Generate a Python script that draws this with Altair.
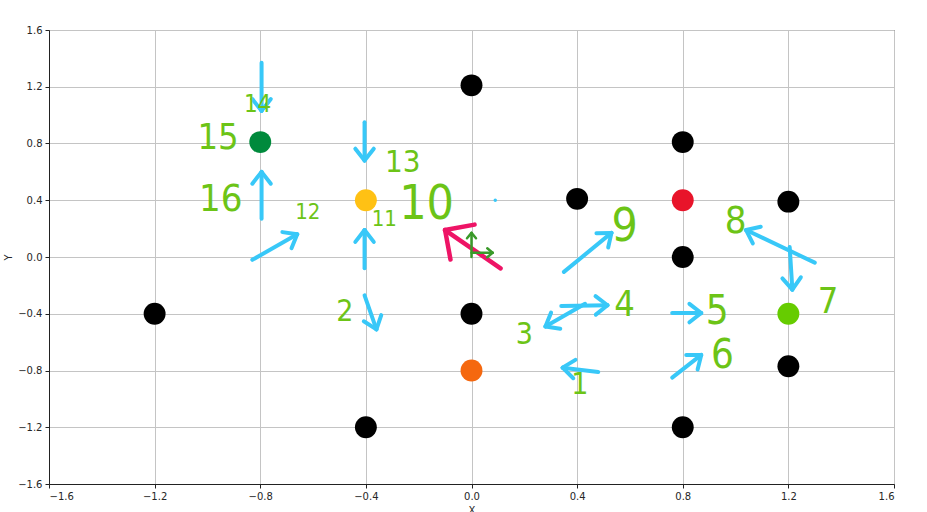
import altair as alt
import pandas as pd
import numpy as np

# ---- data: scatter points ----
pt_x = [-1.2, -0.8, -0.4, -0.4, 0.0, 0.0, 0.0, 0.4, 0.8, 0.8, 0.8, 0.8, 1.2, 1.2, 1.2, 0.09]
pt_y = [-0.4, 0.81, 0.4, -1.2, 1.21, -0.4, -0.8, 0.41, 0.81, 0.4, 0.0, -1.2, 0.39, -0.4, -0.77, 0.4]
pt_group = ["black", "darkgreen", "yellow", "black", "black", "black", "orange", "black",
            "black", "red", "black", "black", "black", "lightgreen", "black", "tiny"]

# ---- data: handwritten numbers ----
note_labels = ["1", "2", "3", "4", "5", "6", "7", "8", "9", "10", "11", "12", "13", "14", "15", "16"]
note_x = [0.41, -0.48, 0.20, 0.58, 0.93, 0.95, 1.35, 1.00, 0.58, -0.17, -0.33, -0.62, -0.26, -0.81, -0.96, -0.95]
note_y = [-0.90, -0.39, -0.55, -0.34, -0.39, -0.70, -0.32, 0.25, 0.21, 0.37, 0.27, 0.32, 0.66, 1.07, 0.84, 0.40]
note_sizes = [30, 30, 30, 36, 40, 40, 36, 38, 46, 48, 22, 22, 31, 24, 36, 38]

# ---- data: hand-drawn arrows (tail -> tip) ----
arrow_x1 = [0.48, -0.405, 0.43, 0.34, 0.76, 0.76, 1.205, 1.30, 0.35, 0.11, -0.405, -0.83, -0.405, -0.795, -0.795, 0.0, 0.0]
arrow_y1 = [-0.81, -0.27, -0.33, -0.345, -0.395, -0.85, 0.07, -0.04, -0.105, -0.08, -0.08, -0.02, 0.95, 1.37, 0.27, 0.0, 0.03]
arrow_x2 = [0.345, -0.36, 0.28, 0.515, 0.87, 0.87, 1.215, 1.04, 0.53, -0.10, -0.405, -0.66, -0.405, -0.795, -0.795, 0.0, 0.08]
arrow_y2 = [-0.78, -0.51, -0.49, -0.34, -0.395, -0.69, -0.23, 0.19, 0.17, 0.19, 0.19, 0.16, 0.68, 1.03, 0.60, 0.17, 0.03]
arrow_ink = ["blue"] * 9 + ["pink"] + ["blue"] * 5 + ["small", "small"]

W, H = 845, 454
sx, sy = W / 3.2, H / 3.2
ink_color = {"blue": "#38C8F8", "pink": "#EE1466", "small": "#3A9A2A"}
ink_width = {"blue": 4, "pink": 4.5, "small": 2.5}
ink_head = {"blue": 15, "pink": 30, "small": 7}
ink_angle = {"blue": 38, "pink": 45, "small": 40}

rows = []
for x1, y1, x2, y2, ink in zip(arrow_x1, arrow_y1, arrow_x2, arrow_y2, arrow_ink):
    c, w, L = ink_color[ink], ink_width[ink], ink_head[ink]
    rows.append(dict(x=x1, y=y1, x2=x2, y2=y2, c=c, w=w))
    dx, dy = (x2 - x1) * sx, (y2 - y1) * sy
    n = np.hypot(dx, dy)
    ux, uy = dx / n, dy / n
    for a in (np.radians(ink_angle[ink]), -np.radians(ink_angle[ink])):
        hx = ux * np.cos(a) - uy * np.sin(a)
        hy = ux * np.sin(a) + uy * np.cos(a)
        rows.append(dict(x=x2, y=y2, x2=x2 - L * hx / sx, y2=y2 - L * hy / sy, c=c, w=w))
arrows = pd.DataFrame(rows)

points = pd.DataFrame({"x": pt_x, "y": pt_y, "g": pt_group})
points["s"] = np.where(points["g"] == "tiny", 12, 480)
notes = pd.DataFrame({"x": note_x, "y": note_y, "t": note_labels, "fs": note_sizes})

ticks = [-1.6, -1.2, -0.8, -0.4, 0.0, 0.4, 0.8, 1.2, 1.6]
xs = alt.Scale(domain=[-1.6, 1.6], nice=False, zero=False)
ys = alt.Scale(domain=[-1.6, 1.6], nice=False, zero=False)

axis_common = dict(values=ticks, format=".1f", grid=True, gridColor="#c4c4c4", gridWidth=1,
                   domainColor="#222222", tickColor="#222222", tickSize=4, labelFontSize=10,
                   labelColor="#262626", labelFont="DejaVu Sans", titleFont="DejaVu Sans",
                   titleFontSize=10, titleFontWeight="normal", titleColor="#262626")

base_x = alt.X("x:Q", scale=xs, axis=alt.Axis(title="X", labelPadding=3, titlePadding=4, **axis_common))
base_y = alt.Y("y:Q", scale=ys, axis=alt.Axis(title="Y", labelPadding=3, titlePadding=4, **axis_common))

color_scale = alt.Scale(
    domain=["black", "darkgreen", "yellow", "orange", "red", "lightgreen", "tiny"],
    range=["#000000", "#008A3C", "#FFC114", "#F5680F", "#E8142A", "#66CC00", "#38C8F8"],
)

pts = alt.Chart(points).mark_circle(opacity=1).encode(
    x=base_x, y=base_y,
    color=alt.Color("g:N", scale=color_scale, legend=None),
    size=alt.Size("s:Q", scale=None, legend=None),
)

arr = alt.Chart(arrows).mark_rule(strokeCap="round").encode(
    x="x:Q", y="y:Q", x2="x2:Q", y2="y2:Q",
    color=alt.Color("c:N", scale=None, legend=None),
    size=alt.Size("w:Q", scale=None, legend=None),
)

txt = alt.Chart(notes).mark_text(color="#6CC417",
                                  font="DejaVu Sans Condensed, Liberation Sans Narrow, DejaVu Sans",
                                  align="center", baseline="middle").encode(
    x="x:Q", y="y:Q", text="t:N",
    size=alt.Size("fs:Q", scale=None, legend=None),
)

chart = (pts + arr + txt).properties(
    width=W, height=H,
    autosize=alt.AutoSizeParams(type="none"),
    padding={"left": 49, "top": 30, "right": 33, "bottom": 28},
).configure_view(stroke="#222222", strokeWidth=1)

chart.save("out.html", embed_options={"renderer": "svg", "actions": False})
